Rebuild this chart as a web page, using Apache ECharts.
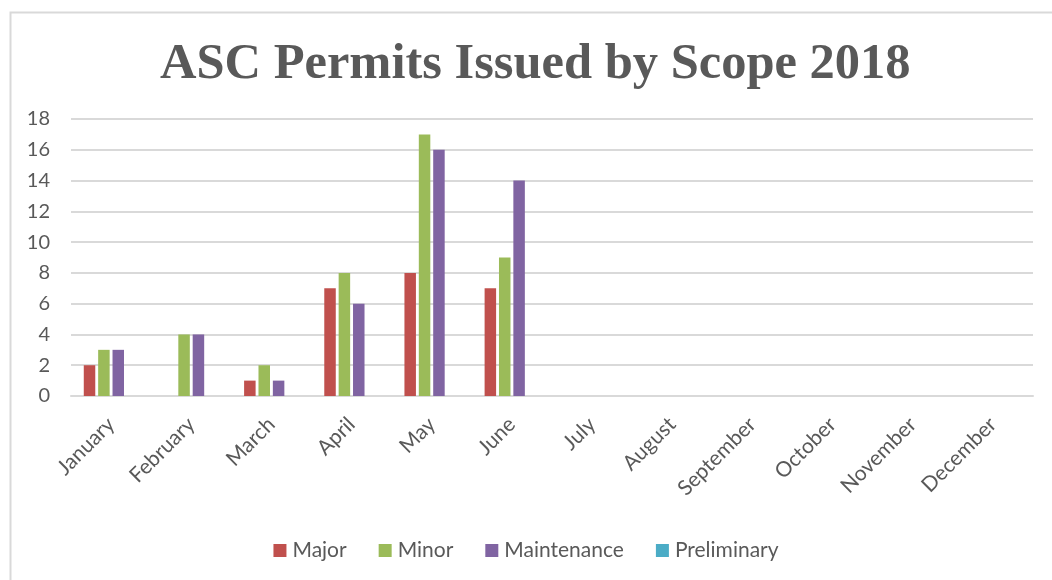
<!DOCTYPE html>
<html>
<head>
<meta charset="utf-8">
<script src="https://cdn.jsdelivr.net/npm/echarts@6/dist/echarts.min.js"></script>
<style>
    html, body { margin: 0; padding: 0; background: #fff; }
    #chart { width: 1052px; height: 580px; }
</style>
</head>
<body>
<div id="chart"></div>
<script>
// 数据
var months = ['January', 'February', 'March', 'April', 'May', 'June',
    'July', 'August', 'September', 'October', 'November', 'December'];
var majorData = [2, 0, 1, 7, 8, 7, null, null, null, null, null, null];
var minorData = [3, 4, 2, 8, 17, 9, null, null, null, null, null, null];
var maintenanceData = [3, 4, 1, 6, 16, 14, null, null, null, null, null, null];
var preliminaryData = [0, 0, 0, 0, 0, 0, null, null, null, null, null, null];
var yTicks = [0, 2, 4, 6, 8, 10, 12, 14, 16, 18];

var textColor = '#595959';
var gridColor = '#d9d9d9';
var labelFont = 'Lato, "Open Sans", sans-serif';

function barSeries(name, data, color) {
    return {
        name: name,
        type: 'bar',
        data: data,
        barWidth: 11.5,
        barGap: '25%',
        itemStyle: { color: color }
    };
}

var chart = echarts.init(document.getElementById('chart'));
var option = {
    animation: false,
    graphic: [{
        type: 'rect',
        left: 8,
        top: 10,
        shape: { width: 1100, height: 620 },
        style: { fill: 'none', stroke: gridColor, lineWidth: 2 },
        silent: true
    }],
    title: {
        text: 'ASC Permits Issued by Scope 2018',
        left: 155,
        top: 34,
        textStyle: {
            fontFamily: '"Liberation Serif", "DejaVu Serif", serif',
            fontWeight: 'bold',
            fontSize: 50.5,
            color: textColor
        }
    },
    legend: {
        top: 535,
        left: 'center',
        itemWidth: 13,
        itemHeight: 13,
        itemGap: 32,
        icon: 'rect',
        textStyle: { fontFamily: labelFont, fontSize: 21, color: textColor, padding: [0, 0, 0, 1] },
        data: ['Major', 'Minor', 'Maintenance', 'Preliminary']
    },
    grid: {
        left: 71,
        right: 19,
        top: 119,
        bottom: 184
    },
    xAxis: {
        type: 'category',
        data: months,
        axisLine: { lineStyle: { color: gridColor, width: 2 } },
        axisTick: { show: false },
        axisLabel: {
            rotate: 45,
            interval: 0,
            margin: 25,
            fontFamily: labelFont,
            fontSize: 21,
            color: textColor
        }
    },
    yAxis: {
        type: 'value',
        min: yTicks[0],
        max: yTicks[yTicks.length - 1],
        interval: 2,
        axisLine: { show: false },
        axisTick: { show: false },
        splitLine: { lineStyle: { color: gridColor, width: 2 } },
        axisLabel: {
            margin: 21,
            fontFamily: labelFont,
            fontSize: 20,
            color: textColor
        }
    },
    series: [
        barSeries('Major', majorData, '#c0504d'),
        barSeries('Minor', minorData, '#9bbb59'),
        barSeries('Maintenance', maintenanceData, '#8064a2'),
        barSeries('Preliminary', preliminaryData, '#4bacc6')
    ]
};
chart.setOption(option);
</script>
</body>
</html>
